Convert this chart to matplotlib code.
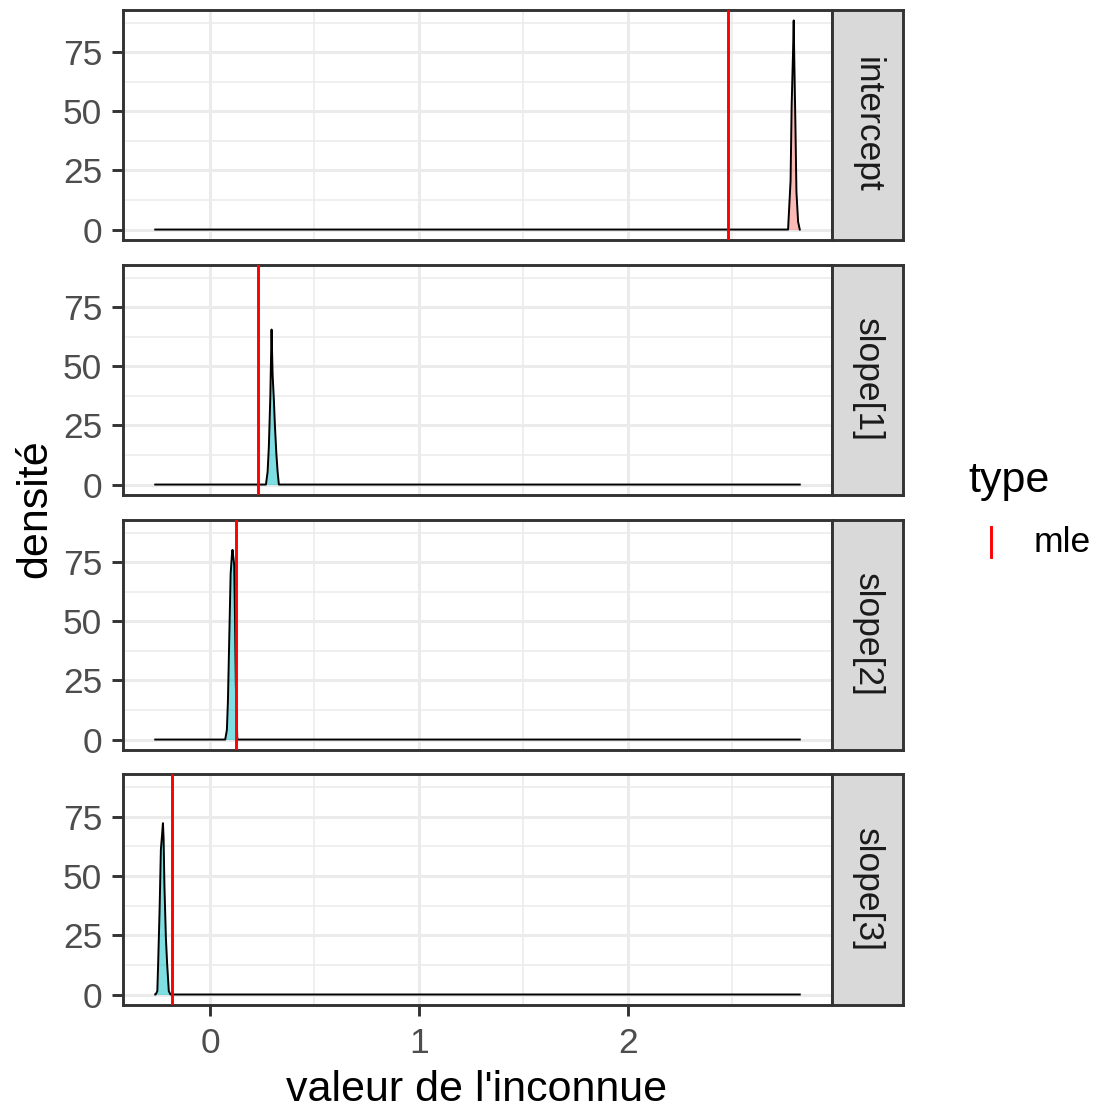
import matplotlib
matplotlib.use("Agg")
import matplotlib.pyplot as plt
from matplotlib.lines import Line2D
import numpy as np

plt.rcParams['font.family'] = ['Liberation Sans', 'DejaVu Sans']

# ---- data ----
params = ["intercept", "slope[1]", "slope[2]", "slope[3]"]
mle = [2.481, 0.232, 0.127, -0.181]
x_range = [-0.262, 2.824]

intercept_x = [2.768, 2.771, 2.780, 2.785, 2.792, 2.795, 2.797, 2.800, 2.803, 2.808, 2.816, 2.824]
intercept_y = [0.0, 5.3, 20.7, 52.0, 76.0, 88.5, 76.0, 60.0, 45.0, 16.0, 3.3, 0.0]

slope1_x = [0.268, 0.276, 0.282, 0.289, 0.295, 0.300, 0.306, 0.311, 0.318, 0.324, 0.330]
slope1_y = [0.0, 5.3, 16.0, 37.0, 65.6, 46.5, 36.0, 25.0, 13.0, 5.4, 0.0]

slope2_x = [0.073, 0.081, 0.086, 0.092, 0.099, 0.105, 0.108, 0.116, 0.120, 0.124, 0.131]
slope2_y = [0.0, 4.0, 16.0, 41.0, 70.0, 78.0, 80.3, 74.0, 51.0, 23.0, 0.0]

slope3_x = [-0.260, -0.252, -0.248, -0.241, -0.235, -0.225, -0.222, -0.218, -0.211, -0.205, -0.197, -0.189]
slope3_y = [0.0, 1.4, 13.0, 36.0, 61.0, 72.2, 66.0, 46.0, 24.0, 13.0, 1.4, 0.0]

curves_x = [intercept_x, slope1_x, slope2_x, slope3_x]
curves_y = [intercept_y, slope1_y, slope2_y, slope3_y]
fills = ["#F8766D", "#00BFC4", "#00BFC4", "#00BFC4"]

x_ticks = [0, 1, 2]
x_minor = [0.5, 1.5, 2.5]
y_ticks = [0, 25, 50, 75]
y_minor = [12.5, 37.5, 62.5, 87.5]

# ---- layout ----
W, H = 1101, 1113
fig = plt.figure(figsize=(W / 100, H / 100), dpi=100)
fig.patch.set_facecolor("white")

panel_left, panel_right = 123, 832
strip_right = 903
panels_px = [(10, 240), (265, 495), (520, 750), (774, 1005)]

ymax = 88.5
ylim = (-0.05 * ymax, 1.05 * ymax)
xlim = (x_range[0] - 0.05 * (x_range[1] - x_range[0]), x_range[1] + 0.05 * (x_range[1] - x_range[0]))

border_col = "#333333"
grid_col = "#EBEBEB"
tick_col = "#4D4D4D"
small = 25.5
big = 31

for i, (top, bot) in enumerate(panels_px):
    ax = fig.add_axes([panel_left / W, 1 - bot / H, (panel_right - panel_left) / W, (bot - top) / H])
    ax.set_xlim(xlim)
    ax.set_ylim(ylim)
    for v in x_minor:
        ax.axvline(v, color=grid_col, lw=1.1, zorder=0)
    for v in y_minor:
        ax.axhline(v, color=grid_col, lw=1.1, zorder=0)
    for v in x_ticks:
        ax.axvline(v, color=grid_col, lw=2.2, zorder=0)
    for v in y_ticks:
        ax.axhline(v, color=grid_col, lw=2.2, zorder=0)

    cx = [x_range[0]] + list(curves_x[i]) + [x_range[1]]
    cy = [0.0] + list(curves_y[i]) + [0.0]
    order = np.argsort(cx, kind="stable")
    cx = np.array(cx)[order]
    cy = np.array(cy)[order]
    ax.fill_between(curves_x[i], curves_y[i], 0, color=fills[i], alpha=0.5, lw=0, zorder=2)
    ax.plot(cx, cy, color="black", lw=1.4, zorder=3)
    ax.axvline(mle[i], color="red", lw=2.1, zorder=4)

    for s in ax.spines.values():
        s.set_color(border_col)
        s.set_linewidth(2.1)
    ax.set_yticks(y_ticks)
    ax.set_yticklabels([str(t) for t in y_ticks])
    ax.set_xticks(x_ticks)
    if i < 3:
        ax.set_xticklabels([])
        ax.tick_params(axis="x", length=0)
    else:
        ax.set_xticklabels([str(t) for t in x_ticks])
        ax.tick_params(axis="x", length=8, width=2.1, color=border_col,
                       labelsize=small, labelcolor=tick_col, pad=8)
    ax.tick_params(axis="y", length=8, width=2.1, color=border_col,
                   labelsize=small, labelcolor=tick_col, pad=7)
    ax.set_facecolor("white")

    # strip
    sax = fig.add_axes([panel_right / W, 1 - bot / H, (strip_right - panel_right) / W, (bot - top) / H])
    sax.set_facecolor("#D9D9D9")
    sax.set_xticks([])
    sax.set_yticks([])
    for s in sax.spines.values():
        s.set_color(border_col)
        s.set_linewidth(2.1)
    sax.text(0.5, 0.5, params[i], rotation=-90, ha="center", va="center",
             fontsize=small, color="#1A1A1A", transform=sax.transAxes)

fig.text(35 / W, 1 - 509 / H, "densité", rotation=90, ha="center", va="center", fontsize=big)
fig.text(477 / W, 1 - 1090 / H, "valeur de l'inconnue", ha="center", va="center", fontsize=big)

# legend
fig.text(968 / W, 1 - 481 / H, "type", ha="left", va="center", fontsize=big)
fig.add_artist(Line2D([991 / W, 991 / W], [1 - 527 / H, 1 - 557 / H], color="red", lw=2.1,
                      transform=fig.transFigure))
fig.text(1034 / W, 1 - 542 / H, "mle", ha="left", va="center", fontsize=small)

fig.savefig("out.png", dpi=100)
